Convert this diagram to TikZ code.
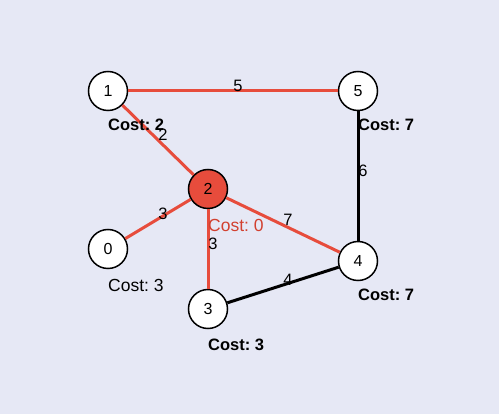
\documentclass[tikz,border=0pt]{standalone}
\usepackage{fontspec}
\setmainfont{Liberation Sans}
\definecolor{bg}{HTML}{E6E8F5}
\definecolor{hot}{HTML}{E74C3C}
\definecolor{hottext}{HTML}{D2402F}
\frenchspacing
\begin{document}
\begin{tikzpicture}[x=1pt,y=-1pt,
  vert/.style={circle,draw=black,fill=white,line width=1.5pt,minimum size=39pt,inner sep=0pt,font=\fontsize{16}{16}\selectfont},
  src/.style={vert,fill=hot},
  redge/.style={draw=hot,line width=3pt},
  bedge/.style={draw=black,line width=3pt},
  wlab/.style={font=\fontsize{16.5}{16}\selectfont,inner sep=0pt,xshift=5pt,yshift=5pt},
  costb/.style={anchor=west,inner sep=0pt,font=\fontsize{16.5}{16}\selectfont\bfseries},
  costn/.style={anchor=west,inner sep=0pt,font=\fontsize{17.5}{17}\selectfont}
]
\fill[bg] (0,0) rectangle (499,414);
\useasboundingbox (0,0) rectangle (499,414);
\node[vert] (n1) at (108,91) {1};
\node[vert] (n5) at (358,91) {5};
\node[src] (n2) at (208,189) {2};
\node[vert] (n0) at (108,249) {0};
\node[vert] (n4) at (358,261) {4};
\node[vert] (n3) at (208,309) {3};
\path[redge] (n1) -- node[wlab] (w15) {5} (n5);
\path[redge] (n1) -- node[wlab] (w12) {2} (n2);
\path[redge] (n2) -- node[wlab] (w20) {3} (n0);
\path[redge] (n2) -- node[wlab] (w23) {3} (n3);
\path[redge] (n2) -- node[wlab] (w24) {7} (n4);
\path[bedge] (n5) -- node[wlab] (w54) {6} (n4);
\path[bedge] (n3) -- node[wlab] (w34) {4} (n4);
\node[costb] (c1) at (108,125) {Cost: 2};
\node[costb] (c5) at (358,125) {Cost: 7};
\node[costn,text=hottext] (c2) at (208,225) {Cost: 0};
\node[costn] (c0) at (108,285) {Cost: 3};
\node[costb] (c4) at (358,295) {Cost: 7};
\node[costb] (c3) at (208,345) {Cost: 3};
\end{tikzpicture}
\end{document}
